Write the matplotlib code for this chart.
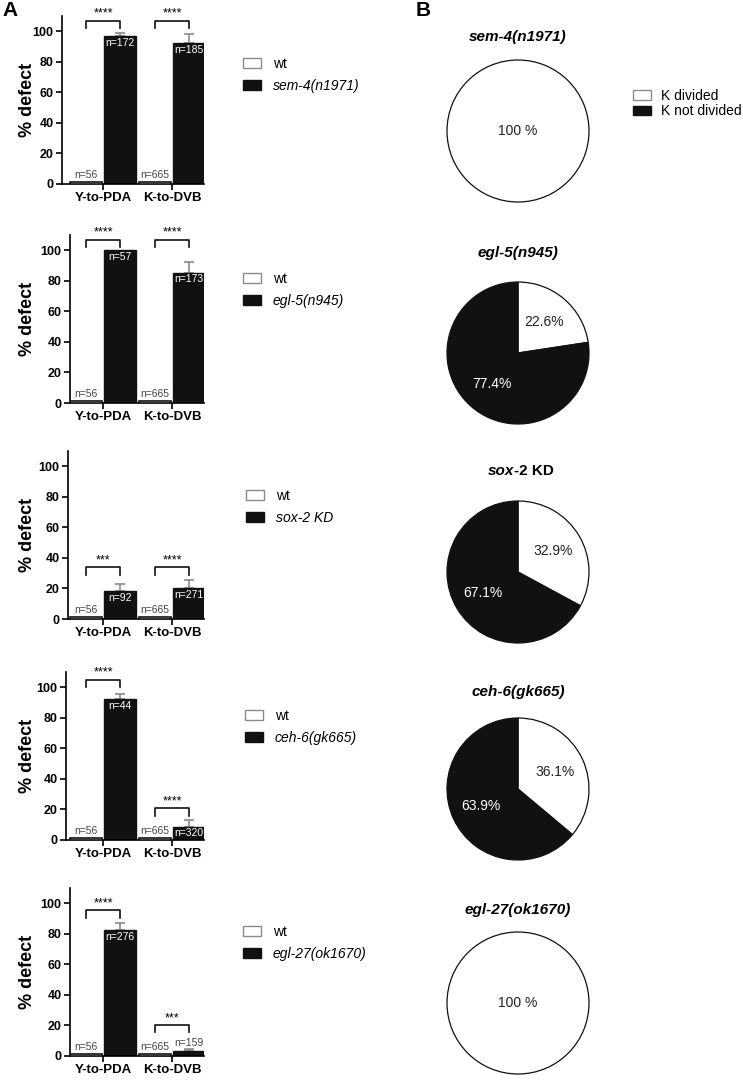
import matplotlib
matplotlib.use("Agg")
import matplotlib.pyplot as plt
from matplotlib.patches import Patch

plt.rcParams['font.family'] = ['Liberation Sans', 'DejaVu Sans']

W, H = 743, 1080

# ---- data: panel A (bar charts) ----
groups = ["Y-to-PDA", "K-to-DVB"]
mutants = ["sem-4(n1971)", "egl-5(n945)", "sox-2 KD", "ceh-6(gk665)", "egl-27(ok1670)"]
wt_defect = [1.5, 1.5]
wt_n = ["n=56", "n=665"]
mut_defect = [[97, 92], [100, 85.4], [18.1, 20.3], [92.1, 8.8], [82.2, 3.0]]
mut_err = [[2, 6], [0, 7.2], [5, 5], [3.5, 4.2], [5, 1.5]]
mut_n = [["n=172", "n=185"], ["n=57", "n=173"], ["n=92", "n=271"],
         ["n=44", "n=320"], ["n=276", "n=159"]]
stars = [["****", "****"], ["****", "****"], ["***", "****"],
         ["****", "****"], ["****", "***"]]
bracket_y = [[107, 107], [107, 107], [34, 34], [105, 21], [95.4, 20.4]]

# ---- data: panel B (pie charts) ----
pie_titles = ["sem-4(n1971)", "egl-5(n945)", "sox-2 KD", "ceh-6(gk665)", "egl-27(ok1670)"]
k_divided = [100, 22.6, 32.9, 36.1, 100]
k_not_divided = [0, 77.4, 67.1, 63.9, 0]

BLACK = '#111111'
GREY = '#8a8a8a'


def fx(x):
    return x / W


def fy(y):
    return 1 - y / H


fig = plt.figure(figsize=(W / 100, H / 100), dpi=100)

fig.text(fx(2), fy(11), "A", fontsize=15, fontweight='bold', va='center')
fig.text(fx(416), fy(11), "B", fontsize=15, fontweight='bold', va='center')

# layout of the bar panels in pixels
y0_px = [184, 403, 619, 840, 1056]
left_px = [62, 70, 68, 66, 70]
leg_px = [(243, 65), (243, 280), (246, 497), (245, 717), (243, 933)]
right_px = 204
tick_px = [103, 172]
unit_px = tick_px[1] - tick_px[0]
bw = 0.46
off = 0.25

for i in range(5):
    ax = fig.add_axes([fx(left_px[i]), fy(y0_px[i]),
                       (right_px - left_px[i]) / W, 168 / H])
    ax.set_xlim((left_px[i] - tick_px[0]) / unit_px, (right_px - tick_px[0]) / unit_px)
    ax.set_ylim(0, 110)
    x = [0, 1]
    xw = [v - off for v in x]
    xm = [v + off for v in x]
    ax.bar(xw, wt_defect, width=bw, color='white', edgecolor=BLACK, linewidth=1.2,
           label='wt', zorder=3)
    ax.bar(xm, mut_defect[i], width=bw, color=BLACK, edgecolor=BLACK, linewidth=1,
           label=mutants[i], zorder=2)
    for j in range(2):
        e = mut_err[i][j]
        if e > 0:
            ax.errorbar(xm[j], mut_defect[i][j], yerr=[[0], [e]], fmt='none',
                        ecolor=GREY, elinewidth=1.2, capsize=3.8, capthick=1.2, zorder=1)
        # n labels
        ax.text(xw[j], 6, wt_n[j], ha='center', va='center', fontsize=7.5, color='#444444')
        h = mut_defect[i][j]
        if h > 6:
            ax.text(xm[j], h - 4.5, mut_n[i][j], ha='center', va='center',
                    fontsize=7.5, color='white', zorder=4)
        else:
            ax.text(xm[j], h + e + 4, mut_n[i][j], ha='center', va='center',
                    fontsize=7.5, color='#444444')
        # significance bracket
        by = bracket_y[i][j]
        ax.plot([xw[j], xw[j], xm[j], xm[j]], [by - 5, by, by, by - 5],
                color=BLACK, lw=1.2, clip_on=False)
        ax.text(x[j], by + 0.5, stars[i][j], ha='center', va='bottom', fontsize=9,
                clip_on=False)

    ax.spines['top'].set_visible(False)
    ax.spines['right'].set_visible(False)
    for s in ['left', 'bottom']:
        ax.spines[s].set_linewidth(1.2)
    ax.set_yticks([0, 20, 40, 60, 80, 100])
    ax.set_xticks(x)
    ax.set_xticklabels(groups, fontsize=9.5, fontweight='bold')
    ax.tick_params(axis='y', labelsize=9, width=1.2, length=4, pad=2)
    ax.tick_params(axis='x', width=1.2, length=4, pad=2)
    for t in ax.get_yticklabels():
        t.set_fontweight('bold')
    fig.text(fx(27), fy(y0_px[i] - 84), "% defect", rotation=90, fontsize=13,
             fontweight='bold', ha='center', va='center')

    handles = [Patch(facecolor='white', edgecolor=GREY, linewidth=1),
               Patch(facecolor=BLACK, edgecolor=BLACK)]
    lx, ly = leg_px[i]
    leg = ax.legend(handles, ['wt', mutants[i]], loc='upper left',
                    bbox_to_anchor=(fx(lx), fy(ly - 8)), bbox_transform=fig.transFigure,
                    frameon=False, fontsize=10, borderpad=0, borderaxespad=0,
                    handlelength=1.3, handleheight=0.7, handletextpad=0.85,
                    labelspacing=0.55)
    leg.get_texts()[1].set_fontstyle('italic')

# pie charts
pie_cy = [131, 353, 572, 789, 1003]
title_y = [37, 253, 471, 692, 910]
cx, r = 518, 71
for i in range(5):
    box = r * 1.04
    ax = fig.add_axes([fx(cx - box), fy(pie_cy[i] + box), 2 * box / W, 2 * box / H])
    vals = [k_divided[i], k_not_divided[i]]
    cols = ['white', BLACK]
    keep = [k for k in range(2) if vals[k] > 0]
    wedges, texts, autotexts = ax.pie([vals[k] for k in keep],
                                      colors=[cols[k] for k in keep],
                                      startangle=90, counterclock=False,
                                      autopct='%1.1f%%', pctdistance=0.57,
                                      wedgeprops=dict(edgecolor=BLACK, linewidth=0.9))
    for k, t in zip(keep, autotexts):
        t.set_fontsize(10)
        t.set_color('white' if k == 1 else '#222222')
        if len(keep) == 1:
            t.set_text("100 %")
            t.set_position((0, 0))
            t.set_va('center')
    ax.set_xlim(-1.04, 1.04)
    ax.set_ylim(-1.04, 1.04)
    ax.set_aspect('equal')

    # titles (bold italic gene name)
    if pie_titles[i] == "sox-2 KD":
        fig.text(fx(cx - 4), fy(title_y[i]), "sox", fontsize=11, fontweight='bold',
                 fontstyle='italic', ha='right', va='center')
        fig.text(fx(cx - 4), fy(title_y[i]), "-2 KD", fontsize=11, fontweight='bold',
                 ha='left', va='center')
    else:
        fig.text(fx(cx), fy(title_y[i]), pie_titles[i], fontsize=11, fontweight='bold',
                 fontstyle='italic', ha='center', va='center')

pie_handles = [Patch(facecolor='white', edgecolor=GREY, linewidth=1),
               Patch(facecolor=BLACK, edgecolor=BLACK)]
fig.legend(pie_handles, ['K divided', 'K not divided'], loc='upper left',
           bbox_to_anchor=(fx(633), fy(89)), frameon=False, fontsize=10,
           borderpad=0, borderaxespad=0, handlelength=1.3, handleheight=0.7,
           handletextpad=0.7, labelspacing=0.1)

fig.savefig("out.png", dpi=100)
